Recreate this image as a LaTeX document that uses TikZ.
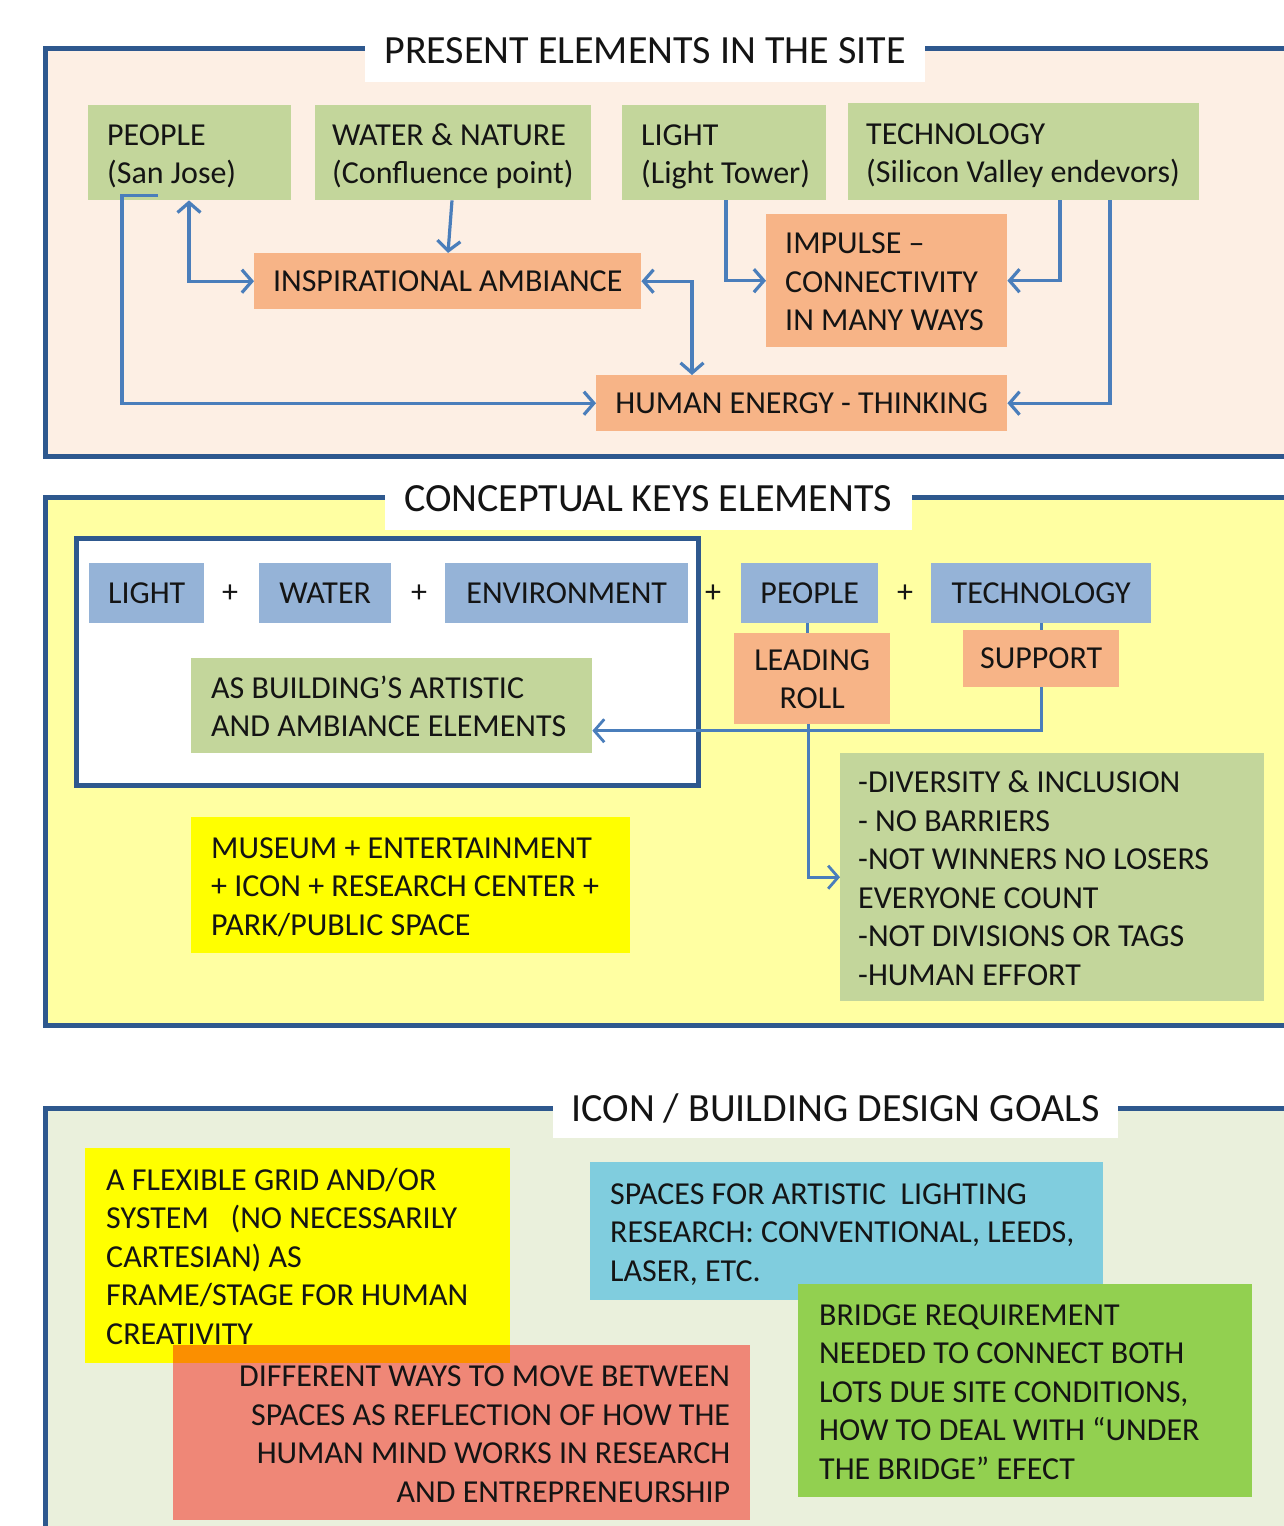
\documentclass[tikz,border=0pt]{standalone}
\usepackage{fontspec}
\setmainfont{Carlito}
\usetikzlibrary{arrows.meta}
\definecolor{frameblue}{RGB}{46,88,142}
\definecolor{arrowblue}{RGB}{74,126,187}
\definecolor{bgone}{RGB}{253,239,228}
\definecolor{bgtwo}{RGB}{255,255,162}
\definecolor{bgthree}{RGB}{234,240,220}
\definecolor{grnbox}{RGB}{195,214,155}
\definecolor{orgbox}{RGB}{247,180,135}
\definecolor{blubox}{RGB}{149,179,215}
\definecolor{yelbox}{RGB}{255,255,0}
\definecolor{cyanbox}{RGB}{128,205,222}
\definecolor{limebox}{RGB}{146,208,80}
\definecolor{redbox}{RGB}{247,12,0}
\definecolor{txt}{RGB}{20,20,20}
\newcommand{\linesL}[2]{\raisebox{-4pt}[\height][\depth]{\makebox[#1][l]{\begin{tabular}{@{}l@{}}#2\end{tabular}}}}
\newcommand{\linesR}[2]{\raisebox{-4pt}[\height][\depth]{\makebox[#1][r]{\begin{tabular}{@{}r@{}}#2\end{tabular}}}}
\newcommand{\linesC}[1]{\raisebox{-3pt}[\height][\depth]{\begin{tabular}{@{}c@{}}#1\end{tabular}}}
\begin{document}
\begin{tikzpicture}[x=1pt,y=-1pt,
  every node/.style={font=\fontsize{32}{38.5}\selectfont, inner sep=0pt, text=txt},
  panel/.style={draw=frameblue, line width=5pt},
  ttl/.style={fill=white, inner sep=0pt, anchor=base, font=\fontsize{40}{44}\selectfont},
  bx/.style={anchor=north west, inner xsep=19pt, inner ysep=0pt},
  cbx/.style={anchor=north west, inner sep=0pt, align=center},
  sz/.style 2 args={minimum width=#1, minimum height=#2},
  con/.style={draw=arrowblue, line width=3.2pt},
  thincon/.style={draw=arrowblue, line width=2.8pt},
  tip/.style={-{Straight Barb[length=10pt,width=23pt]}},
  tips/.style={{Straight Barb[length=10pt,width=23pt]}-{Straight Barb[length=10pt,width=23pt]}},
]
\useasboundingbox (0,0) rectangle (1284,1526);
\clip (0,0) rectangle (1284,1526);
\fill[white] (0,0) rectangle (1284,1526);

% ---------------- panel 1
\draw[panel, fill=bgone] (45,48) rectangle (1330,456);
\node[ttl, text height=35pt, text depth=19pt, minimum width=560pt] (t1) at (645,63) {PRESENT ELEMENTS IN THE SITE};

\node[bx, fill=grnbox, sz={203pt}{95pt}] (people) at (88,105) {\linesL{165pt}{PEOPLE\\(San Jose)}};
\node[bx, fill=grnbox, sz={276pt}{95pt}, inner xsep=17pt] (water) at (315,105) {\linesL{242pt}{WATER \& NATURE\\(Confluence point)}};
\node[bx, fill=grnbox, sz={204pt}{95pt}] (light) at (622,105) {\linesL{166pt}{LIGHT\\(Light Tower)}};
\node[bx, fill=grnbox, sz={351pt}{97pt}, inner xsep=18pt] (tech) at (848,103) {\linesL{315pt}{TECHNOLOGY\\(Silicon Valley endevors)}};
\node[cbx, fill=orgbox, sz={387pt}{56pt}] (insp) at (254,253) {INSPIRATIONAL AMBIANCE};
\node[bx, fill=orgbox, sz={241pt}{133pt}] (impulse) at (766,214) {\linesL{203pt}{IMPULSE –\\CONNECTIVITY\\IN MANY WAYS}};
\node[cbx, fill=orgbox, sz={411pt}{56pt}] (human) at (596,375) {HUMAN ENERGY - THINKING};

\draw[con, tip] ([xshift=70pt,yshift=5pt]people.south west) -- ++(-36,0) |- (human.west);
\draw[con, tips] ([xshift=101pt]people.south west) |- (insp.west);
\draw[con, tip] ([xshift=137pt]water.south west) -- ([xshift=194pt]insp.north west);
\draw[con, tips] (insp.east) -| ([xshift=96pt]human.north west);
\draw[con, tip] ([xshift=104pt]light.south west) |- (impulse.west);
\draw[con, tip] ([xshift=212pt]tech.south west) |- (impulse.east);
\draw[con, tip] ([xshift=262pt]tech.south west) |- (human.east);

% ---------------- panel 2
\draw[panel, fill=bgtwo] (45,497) rectangle (1330,1025);
\node[ttl, text height=33pt, text depth=19pt, minimum width=527pt] (t2) at (648,511) {CONCEPTUAL KEYS ELEMENTS};
\draw[panel, fill=white] (76,538) rectangle (698,785);

\node[cbx, fill=blubox, sz={115pt}{60pt}] (lighttwo) at (89,563) {LIGHT};
\node[cbx, fill=blubox, sz={132pt}{60pt}] (watertwo) at (259,563) {WATER};
\node[cbx, fill=blubox, sz={243pt}{60pt}] (envtwo) at (445,563) {ENVIRONMENT};
\node[cbx, fill=blubox, sz={137pt}{60pt}] (peopletwo) at (741,563) {PEOPLE};
\node[cbx, fill=blubox, sz={220pt}{60pt}] (techtwo) at (931,563) {TECHNOLOGY};
\node (plusa) at (230,594) {+};
\node (plusb) at (419,594) {+};
\node (plusc) at (713,594) {+};
\node (plusd) at (905,594) {+};

\node[cbx, fill=orgbox, sz={156pt}{91pt}] (leading) at (734,633) {\linesC{LEADING\\ROLL}};
\node[cbx, fill=orgbox, sz={156pt}{57pt}] (support) at (963,630) {SUPPORT};
\node[bx, fill=grnbox, sz={401pt}{95pt}, inner xsep=20pt] (artistic) at (191,658) {\linesL{361pt}{AS BUILDING’S ARTISTIC\\AND AMBIANCE ELEMENTS}};
\node[bx, fill=yelbox, sz={439pt}{136pt}, inner xsep=20pt] (museum) at (191,817) {\linesL{399pt}{MUSEUM + ENTERTAINMENT\\+ ICON + RESEARCH CENTER +\\PARK/PUBLIC SPACE}};
\node[bx, fill=grnbox, sz={424pt}{248pt}, inner xsep=18pt] (list) at (840,753) {\linesL{388pt}{-DIVERSITY \& INCLUSION\\- NO BARRIERS\\-NOT WINNERS NO LOSERS\\EVERYONE COUNT\\-NOT DIVISIONS OR TAGS\\-HUMAN EFFORT}};

\draw[thincon] ([xshift=-2pt]peopletwo.south) -- ([xshift=-2pt]peopletwo.south |- leading.north);
\draw[thincon] (techtwo.south) -- (techtwo.south |- support.north);
\draw[thincon, tip] (support.south) |- ([yshift=-25pt]artistic.east);
\draw[thincon, tip] ([xshift=-4pt]leading.south) |- (list.west);

% ---------------- panel 3
\draw[panel, fill=bgthree] (45,1108) rectangle (1330,1580);
\node[ttl, text height=36pt, text depth=17pt, minimum width=565pt] (t3) at (835.5,1121) {ICON / BUILDING DESIGN GOALS};

\node[bx, fill=yelbox, sz={425pt}{215pt}, inner xsep=21pt] (grid) at (85,1148) {\linesL{383pt}{A FLEXIBLE GRID AND/OR\\SYSTEM\ \ \ (NO NECESSARILY\\CARTESIAN) AS\\FRAME/STAGE FOR HUMAN\\CREATIVITY}};
\node[bx, fill=redbox, fill opacity=0.46, text opacity=1, sz={577pt}{175pt}, inner xsep=20pt] (ways) at (173,1345) {\linesR{537pt}{DIFFERENT WAYS TO MOVE BETWEEN\\SPACES AS REFLECTION OF HOW THE\\HUMAN MIND WORKS IN RESEARCH\\AND ENTREPRENEURSHIP}};
\node[bx, fill=cyanbox, sz={513pt}{138pt}, inner xsep=20pt] (spaces) at (590,1162) {\linesL{473pt}{SPACES FOR ARTISTIC\ \ LIGHTING\\RESEARCH: CONVENTIONAL, LEEDS,\\LASER, ETC.}};
\node[bx, fill=limebox, sz={454pt}{213pt}, inner xsep=21pt] (bridge) at (798,1284) {\linesL{412pt}{BRIDGE REQUIREMENT\\NEEDED TO CONNECT BOTH\\LOTS DUE SITE CONDITIONS,\\HOW TO DEAL WITH “UNDER\\THE BRIDGE” EFECT}};
\end{tikzpicture}
\end{document}
